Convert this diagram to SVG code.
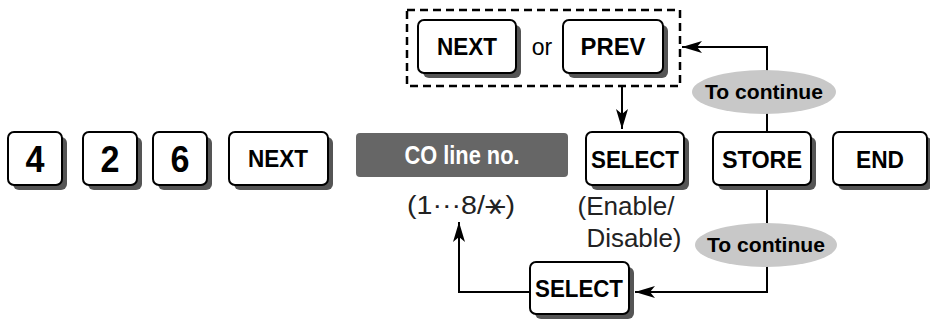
<svg xmlns="http://www.w3.org/2000/svg" width="930" height="320" viewBox="0 0 930 320">
<defs>
<style>
.sh{fill:#555}
.k{fill:#fff;stroke:#000;stroke-width:2}
.t{font-family:"Liberation Sans",Arial,sans-serif;font-weight:bold;fill:#000;text-anchor:middle}
.n{font-family:"Liberation Sans",Arial,sans-serif;fill:#222;text-anchor:middle}
.ln{fill:none;stroke:#000;stroke-width:2}
.ov{fill:#c8c8c8}
</style>
<marker id="ah" viewBox="0 0 20 12" refX="20" refY="6" markerWidth="20" markerHeight="12" markerUnits="userSpaceOnUse" orient="auto">
<path d="M0,0 L20,6 L0,12 L5,6 Z" fill="#000"/>
</marker>
</defs>
<rect width="930" height="320" fill="#fff"/>
<g id="connectors">
<path class="ln" d="M622,87 V129" marker-end="url(#ah)"/>
<path class="ln" d="M767,132 V47 H682" marker-end="url(#ah)"/>
<path class="ln" d="M767,185 V292 H635" marker-end="url(#ah)"/>
<path class="ln" d="M530,292 H459 V222" marker-end="url(#ah)"/>
</g>
<g id="k4"><rect class="sh" x="13" y="137" width="54" height="53" rx="6"/><rect class="k" x="8" y="132" width="54" height="53" rx="6"/><text class="t" x="35" y="172" font-size="37" textLength="19" lengthAdjust="spacingAndGlyphs">4</text></g>
<g id="k2"><rect class="sh" x="88" y="137" width="54" height="53" rx="6"/><rect class="k" x="83" y="132" width="54" height="53" rx="6"/><text class="t" x="110" y="172" font-size="37" textLength="19" lengthAdjust="spacingAndGlyphs">2</text></g>
<g id="k6"><rect class="sh" x="158" y="137" width="54" height="53" rx="6"/><rect class="k" x="153" y="132" width="54" height="53" rx="6"/><text class="t" x="180" y="172" font-size="37" textLength="19" lengthAdjust="spacingAndGlyphs">6</text></g>
<g id="next1"><rect class="sh" x="234" y="137" width="99" height="53" rx="6"/><rect class="k" x="229" y="132" width="99" height="53" rx="6"/><text class="t" x="278" y="167" font-size="24" textLength="60" lengthAdjust="spacingAndGlyphs">NEXT</text></g>
<g id="coline"><rect x="356" y="133" width="212" height="44" rx="4" fill="#666"/><text class="t" x="462" y="164" font-size="25" textLength="115" lengthAdjust="spacingAndGlyphs" style="fill:#fff">CO line no.</text><text class="n" x="461" y="214" font-size="25" textLength="108" lengthAdjust="spacingAndGlyphs">(1···8/<tspan font-family="DejaVu Sans" font-size="30">⚹</tspan>)</text></g>
<g id="choice"><rect x="407" y="10" width="273" height="76" fill="none" stroke="#000" stroke-width="2.5" stroke-dasharray="8,5"/>
<rect class="sh" x="423" y="25" width="98" height="53" rx="6"/><rect class="k" x="418" y="20" width="98" height="53" rx="6"/><text class="t" x="467" y="55" font-size="24" textLength="60" lengthAdjust="spacingAndGlyphs">NEXT</text>
<text class="n" x="542" y="55" font-size="23" style="fill:#000">or</text>
<rect class="sh" x="568" y="25" width="100" height="53" rx="6"/><rect class="k" x="563" y="20" width="100" height="53" rx="6"/><text class="t" x="613" y="55" font-size="24" textLength="65" lengthAdjust="spacingAndGlyphs">PREV</text></g>
<g id="select1"><rect class="sh" x="591" y="137" width="98" height="53" rx="6"/><rect class="k" x="586" y="132" width="98" height="53" rx="6"/><text class="t" x="635" y="168" font-size="24" textLength="88" lengthAdjust="spacingAndGlyphs">SELECT</text>
<text class="n" x="626" y="215" font-size="25" textLength="97" lengthAdjust="spacingAndGlyphs">(Enable/</text><text class="n" x="634" y="247" font-size="25" textLength="95" lengthAdjust="spacingAndGlyphs">Disable)</text></g>
<g id="store"><rect class="sh" x="718" y="137" width="98" height="53" rx="6"/><rect class="k" x="713" y="132" width="98" height="53" rx="6"/><text class="t" x="762" y="168" font-size="24" textLength="80" lengthAdjust="spacingAndGlyphs">STORE</text></g>
<g id="end"><rect class="sh" x="838" y="137" width="94" height="53" rx="6"/><rect class="k" x="833" y="132" width="94" height="53" rx="6"/><text class="t" x="880" y="168" font-size="24" textLength="48" lengthAdjust="spacingAndGlyphs">END</text></g>
<g id="cont1"><ellipse class="ov" cx="764" cy="92" rx="72" ry="22"/><text class="t" x="764" y="99" font-size="20" textLength="118" lengthAdjust="spacingAndGlyphs">To continue</text></g>
<g id="cont2"><ellipse class="ov" cx="766" cy="245" rx="71" ry="22"/><text class="t" x="766" y="252" font-size="20" textLength="118" lengthAdjust="spacingAndGlyphs">To continue</text></g>
<g id="select2"><rect class="sh" x="535" y="267" width="99" height="52" rx="6"/><rect class="k" x="530" y="262" width="99" height="52" rx="6"/><text class="t" x="579" y="297" font-size="24" textLength="88" lengthAdjust="spacingAndGlyphs">SELECT</text></g>
</svg>
